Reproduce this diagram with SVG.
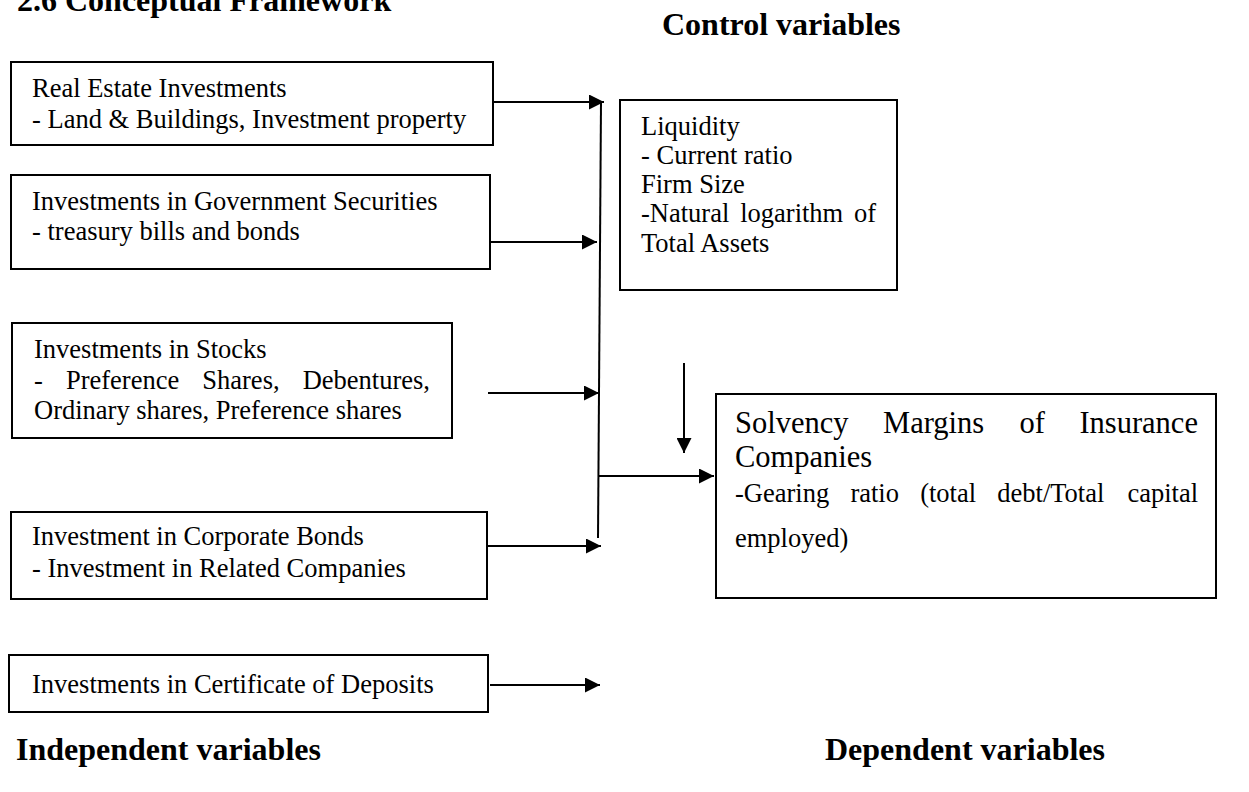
<svg xmlns="http://www.w3.org/2000/svg" width="1249" height="792" viewBox="0 0 1249 792">
<style>
.box{fill:#fff;stroke:#000;stroke-width:2}
.t{font-family:"Liberation Serif","Times New Roman",serif;font-size:26.5px;fill:#000}
.big{font-family:"Liberation Serif","Times New Roman",serif;font-size:30.5px;fill:#000}
.h{font-family:"Liberation Serif","Times New Roman",serif;font-size:32px;font-weight:bold;fill:#000}
.c{stroke:#000;stroke-width:2;fill:none}
</style>
<defs>
<marker id="ah" viewBox="0 0 15 15" refX="15" refY="7.5" markerWidth="15" markerHeight="15" markerUnits="userSpaceOnUse" orient="auto">
<path d="M0,0 L15,7.5 L0,15 Z" fill="#000"/>
</marker>
</defs>
<rect width="1249" height="792" fill="#fff"/>
<text class="h" x="17" y="11">2.6 Conceptual Framework</text>
<text class="h" x="662" y="35">Control variables</text>
<text class="h" x="16" y="760">Independent variables</text>
<text class="h" x="825" y="760">Dependent variables</text>

<g id="real-estate">
<rect class="box" x="11" y="62" width="482" height="83"/>
<text class="t" x="32" y="97">Real Estate Investments</text>
<text class="t" x="32" y="128">- Land &amp; Buildings, Investment property</text>
</g>
<g id="government">
<rect class="box" x="11" y="175" width="479" height="94"/>
<text class="t" x="32" y="210">Investments in Government Securities</text>
<text class="t" x="32" y="240">- treasury bills and bonds</text>
</g>
<g id="stocks">
<rect class="box" x="12" y="323" width="440" height="115"/>
<text class="t" x="34" y="358">Investments in Stocks</text>
<text class="t" y="389"><tspan x="34">-</tspan><tspan x="65.9">Preference</tspan><tspan x="202.3">Shares,</tspan><tspan x="302.7">Debentures,</tspan></text>
<text class="t" x="34" y="419">Ordinary shares, Preference shares</text>
</g>
<g id="corporate">
<rect class="box" x="11" y="512" width="476" height="87"/>
<text class="t" x="32" y="545">Investment in Corporate Bonds</text>
<text class="t" x="32" y="577">- Investment in Related Companies</text>
</g>
<g id="certificate">
<rect class="box" x="9" y="655" width="479" height="57"/>
<text class="t" x="32" y="693">Investments in Certificate of Deposits</text>
</g>
<g id="control">
<rect class="box" x="620" y="100" width="277" height="190"/>
<text class="t" x="641" y="135">Liquidity</text>
<text class="t" x="641" y="164">- Current ratio</text>
<text class="t" x="641" y="193">Firm Size</text>
<text class="t" y="222"><tspan x="641">-Natural</tspan><tspan x="740.2">logarithm</tspan><tspan x="854">of</tspan></text>
<text class="t" x="641" y="252">Total Assets</text>
</g>
<g id="solvency">
<rect class="box" x="716" y="394" width="500" height="204"/>
<text class="big" y="433"><tspan x="735">Solvency</tspan><tspan x="883.1">Margins</tspan><tspan x="1019.4">of</tspan><tspan x="1079.4">Insurance</tspan></text>
<text class="big" x="735" y="467">Companies</text>
<text class="t" y="502"><tspan x="735">-Gearing</tspan><tspan x="850.4">ratio</tspan><tspan x="920.2">(total</tspan><tspan x="997.3">debt/Total</tspan><tspan x="1127.4">capital</tspan></text>
<text class="t" x="735" y="547">employed)</text>
</g>
<g id="connectors">
<line class="c" x1="493" y1="102" x2="604" y2="102" marker-end="url(#ah)"/>
<line class="c" x1="490" y1="242" x2="597" y2="242" marker-end="url(#ah)"/>
<line class="c" x1="488" y1="393" x2="599" y2="393" marker-end="url(#ah)"/>
<line class="c" x1="487" y1="546" x2="601" y2="546" marker-end="url(#ah)"/>
<line class="c" x1="490" y1="685" x2="600" y2="685" marker-end="url(#ah)"/>
<line class="c" x1="601" y1="102" x2="598" y2="538"/>
<line class="c" x1="598" y1="476" x2="714" y2="476" marker-end="url(#ah)"/>
<line class="c" x1="684" y1="363" x2="684" y2="453" marker-end="url(#ah)"/>
</g>
</svg>
